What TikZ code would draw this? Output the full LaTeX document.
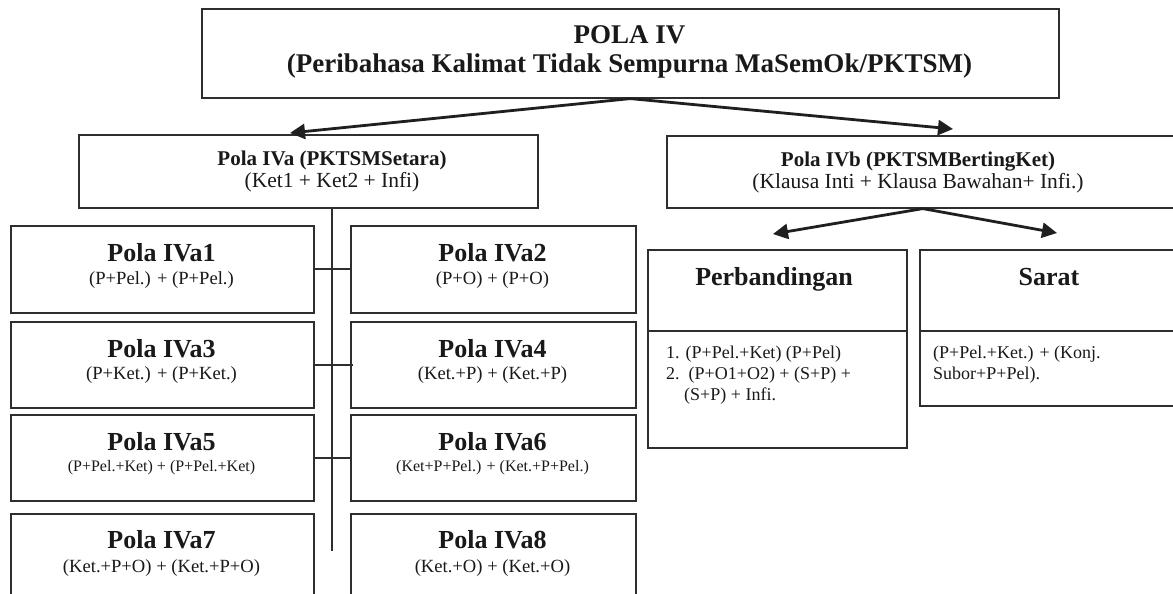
\documentclass[tikz,border=0pt]{standalone}
\usepackage{fontspec}
\setmainfont{Liberation Serif}
\usetikzlibrary{arrows.meta}
\begin{document}
\begin{tikzpicture}[x=1pt,y=-1pt,
  box/.style={draw=black!82, line width=1.6pt, inner sep=0pt, anchor=north west},
  bigttl/.style={font=\fontsize{27}{30}\selectfont\bfseries, anchor=base, inner sep=0pt, text=black!90},
  ttl/.style={font=\fontsize{26}{30}\selectfont\bfseries, anchor=base, inner sep=0pt, text=black!90},
  midttl/.style={font=\fontsize{21}{24}\selectfont\bfseries, anchor=base, inner sep=0pt, text=black!90},
  midsub/.style={font=\fontsize{21.5}{24}\selectfont, anchor=base, inner sep=0pt, text=black!90},
  sub/.style={font=\fontsize{18.6}{22}\selectfont, anchor=base, inner sep=0pt, text=black!90},
  smallsub/.style={font=\fontsize{16}{19}\selectfont, anchor=base, inner sep=0pt, text=black!90},
  listtxt/.style={font=\fontsize{18}{21}\selectfont, anchor=base west, inner sep=0pt, text=black!90},
  conn/.style={line width=2pt, draw=black!82},
  arr/.style={line width=2.8pt, draw=black!88, -{Triangle[length=15pt,width=15pt]}},
]
\useasboundingbox (0,0) rectangle (1173,594);
\fill[white] (0,0) rectangle (1173,594);

% top box
\node[box, minimum width=857pt, minimum height=89pt] (top) at (201,8) {};
\node[bigttl] (topt1) at (629.5,44) {POLA IV};
\node[bigttl] (topt2) at (629.5,73) {(Peribahasa Kalimat Tidak Sempurna MaSemOk/PKTSM)};

% level 2
\node[box, minimum width=459pt, minimum height=73pt] (iva) at (78,134) {};
\node[midttl] (ivat) at (332,165) {Pola IVa (PKTSMSetara)};
\node[midsub] (ivas) at (332,187) {(Ket1 + Ket2 + Infi)};

\node[box, minimum width=512pt, minimum height=72pt] (ivb) at (666,135) {};
\node[midttl] (ivbt) at (918,166) {Pola IVb (PKTSMBertingKet)};
\node[midsub] (ivbs) at (918,188) {(Klausa Inti + Klausa Bawahan+ Infi.)};

% arrows from top
\coordinate (tipA) at (290,133);
\coordinate (tipB) at (953,129);
\draw[arr] (top.south) -- (tipA);
\draw[arr] (top.south) -- (tipB);

% IVa children
\node[box, minimum width=303pt, minimum height=87pt] (a1) at (10,225) {};
\node[ttl] (a1t) at (161.5,261) {Pola IVa1};
\node[sub] (a1s) at (161.5,284) {(P+Pel.) + (P+Pel.)};

\node[box, minimum width=285pt, minimum height=87pt] (a2) at (350,225) {};
\node[ttl] (a2t) at (492.5,261) {Pola IVa2};
\node[sub] (a2s) at (492.5,284) {(P+O) + (P+O)};

\node[box, minimum width=303pt, minimum height=86pt] (a3) at (10,321) {};
\node[ttl] (a3t) at (161.5,357) {Pola IVa3};
\node[sub] (a3s) at (161.5,379) {(P+Ket.) + (P+Ket.)};

\node[box, minimum width=285pt, minimum height=86pt] (a4) at (350,321) {};
\node[ttl] (a4t) at (492.5,357) {Pola IVa4};
\node[sub] (a4s) at (492.5,379) {(Ket.+P) + (Ket.+P)};

\node[box, minimum width=303pt, minimum height=86pt] (a5) at (10,414) {};
\node[ttl] (a5t) at (161.5,450) {Pola IVa5};
\node[smallsub] (a5s) at (161.5,471) {(P+Pel.+Ket) + (P+Pel.+Ket)};

\node[box, minimum width=285pt, minimum height=86pt] (a6) at (350,414) {};
\node[ttl] (a6t) at (492.5,450) {Pola IVa6};
\node[smallsub] (a6s) at (492.5,471) {(Ket+P+Pel.) + (Ket.+P+Pel.)};

\node[box, minimum width=303pt, minimum height=95pt] (a7) at (10,513) {};
\node[ttl] (a7t) at (161.5,548) {Pola IVa7};
\node[sub] (a7s) at (161.5,572) {(Ket.+P+O) + (Ket.+P+O)};

\node[box, minimum width=285pt, minimum height=95pt] (a8) at (350,513) {};
\node[ttl] (a8t) at (492.5,548) {Pola IVa8};
\node[sub] (a8s) at (492.5,572) {(Ket.+O) + (Ket.+O)};

% trunk and branches
\coordinate (vbot) at (332,551);
\draw[conn] (iva.south -| vbot) -- (vbot);
\draw[conn] (a1.east) -- (a2.west);
\draw[conn] (a3.east) -- ([xshift=3pt]a4.west);
\draw[conn] (a5.east) -- (a6.west);

% IVb children
\node[box, minimum width=259pt, minimum height=198pt] (perb) at (647,249) {};
\coordinate (perbdiv) at (647,331);
\draw[conn, line width=1.6pt] (perbdiv) -- (perbdiv -| perb.east);
\node[ttl] (perbt) at (774,285) {Perbandingan};
\node[listtxt] (pl1) at (666,358) {1. (P+Pel.+Ket) (P+Pel)};
\node[listtxt] (pl2) at (666,379) {2.\hspace{0.5em}(P+O1+O2) + (S+P) +};
\node[listtxt] (pl3) at (684,400) {(S+P) + Infi.};

\node[box, minimum width=262pt, minimum height=156pt] (sarat) at (919,249) {};
\coordinate (saratdiv) at (919,331);
\draw[conn, line width=1.6pt] (saratdiv) -- (saratdiv -| sarat.east);
\node[ttl] (saratt) at (1049,285) {Sarat};
\node[listtxt] (sl1) at (933,358) {(P+Pel.+Ket.) + (Konj.};
\node[listtxt] (sl2) at (933,379) {Subor+P+Pel).};

\coordinate (tipC) at (773,234);
\coordinate (tipD) at (1057,233);
\draw[arr] (ivb.south) -- (tipC);
\draw[arr] (ivb.south) -- (tipD);
\end{tikzpicture}
\end{document}
